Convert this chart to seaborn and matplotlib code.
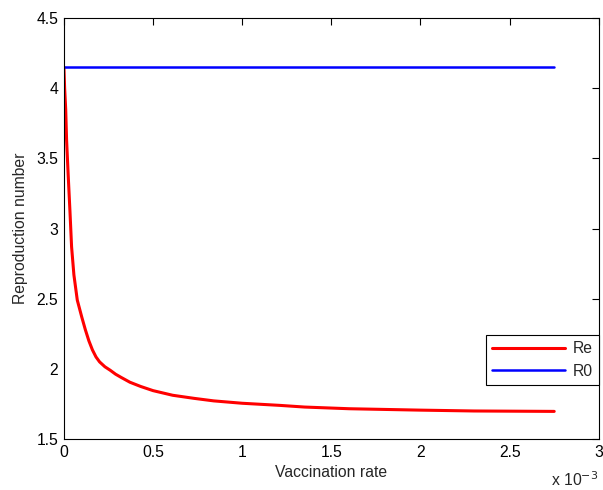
import numpy as np
import pandas as pd
import matplotlib
matplotlib.use("Agg")
import matplotlib.pyplot as plt
import seaborn as sns

# vaccination rate in units of 1e-3
vacc_rate = [0.0, 0.004, 0.01, 0.015, 0.024, 0.034, 0.043, 0.056, 0.075, 0.1, 0.12,
             0.14, 0.16, 0.18, 0.2, 0.23, 0.26, 0.29, 0.32, 0.37, 0.43, 0.5, 0.61,
             0.73, 0.84, 1.0, 1.21, 1.35, 1.6, 2.0, 2.3, 2.75]
re_vals = [4.15, 4.0, 3.85, 3.63, 3.38, 3.12, 2.87, 2.67, 2.49, 2.37, 2.28,
           2.2, 2.135, 2.085, 2.05, 2.015, 1.99, 1.962, 1.94, 1.905, 1.875, 1.845, 1.812,
           1.79, 1.772, 1.755, 1.74, 1.728, 1.716, 1.706, 1.70, 1.697]
r0_rate = [0.0, 2.75]
r0_vals = [4.15, 4.15]

df_re = pd.DataFrame({'rate': vacc_rate, 'R': re_vals})
df_r0 = pd.DataFrame({'rate': r0_rate, 'R': r0_vals})

sns.set_style('white')
plt.rcParams['font.family'] = ['Liberation Sans', 'DejaVu Sans']
fs = 11.3

fig = plt.figure(figsize=(6.03, 4.90), dpi=100)
ax = fig.add_axes([0.106, 0.104, 0.887, 0.859])

sns.lineplot(data=df_re, x='rate', y='R', color='#ff0000', lw=2.2, label='Re', ax=ax)
sns.lineplot(data=df_r0, x='rate', y='R', color='#0000ff', lw=1.8, label='R0', ax=ax)

ax.set_xlim(0, 3)
ax.set_ylim(1.5, 4.5)
ax.set_xticks([0, 0.5, 1, 1.5, 2, 2.5, 3])
ax.set_xticklabels(['0', '0.5', '1', '1.5', '2', '2.5', '3'])
ax.set_yticks([1.5, 2, 2.5, 3, 3.5, 4, 4.5])
ax.set_yticklabels(['1.5', '2', '2.5', '3', '3.5', '4', '4.5'])
ax.tick_params(direction='in', length=5, width=0.8, top=True, right=True,
               labelsize=fs, colors='black', pad=4)
for s in ax.spines.values():
    s.set_color('black')
    s.set_linewidth(0.8)

ax.set_xlabel('Vaccination rate', fontsize=fs, labelpad=4)
ax.set_ylabel('Reproduction number', fontsize=fs, labelpad=6)
ax.text(1.0, -0.112, 'x 10$^{-3}$', transform=ax.transAxes, fontsize=fs,
        ha='right', va='baseline')

leg = ax.legend(loc='lower right', bbox_to_anchor=(1.0, 0.128), fontsize=fs,
                fancybox=False, framealpha=1, edgecolor='black', handlelength=4.6,
                handletextpad=0.5, borderpad=0.4, labelspacing=0.5, borderaxespad=0)
leg.get_frame().set_linewidth(0.8)

fig.savefig('out.png', dpi=100)
